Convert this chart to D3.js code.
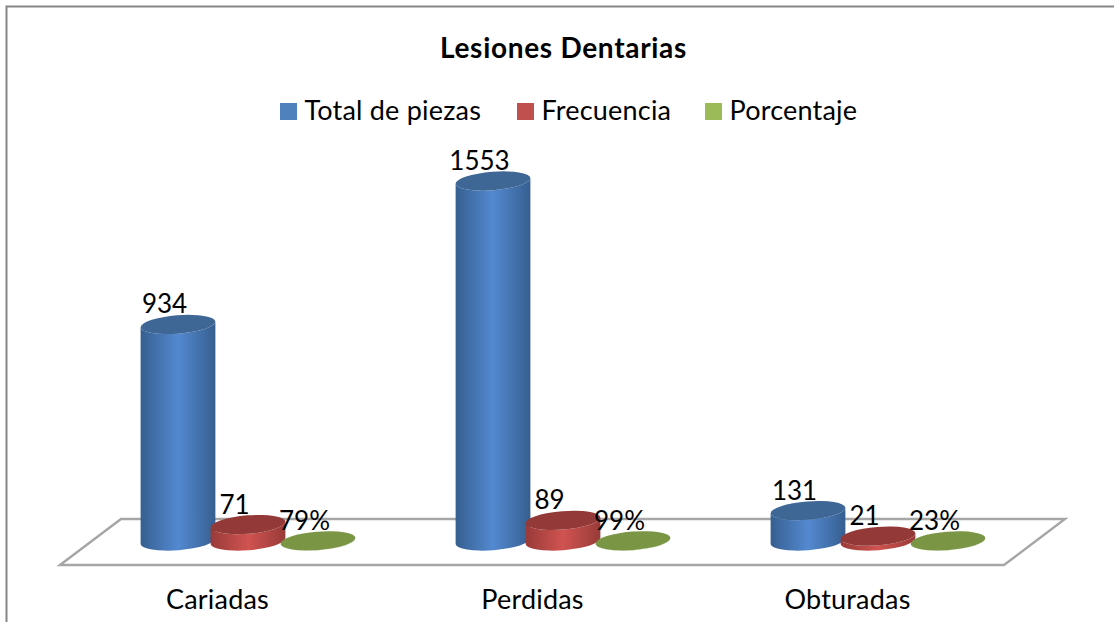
<!DOCTYPE html>
<html>
<head>
<meta charset="utf-8">
<script src="https://cdn.jsdelivr.net/npm/d3@7"></script>
<style>
html,body{margin:0;padding:0;background:#fff;overflow:hidden}
text{font-family:Lato,Carlito,"Open Sans",sans-serif;fill:#000}
</style>
</head>
<body>
<svg id="c" width="1114" height="622"></svg>
<script>
const categories = ["Cariadas", "Perdidas", "Obturadas"];
const seriesNames = ["Total de piezas", "Frecuencia", "Porcentaje"];
const totalPiezas = [934, 1553, 131];
const frecuencia = [71, 89, 21];
const porcentaje = [0.79, 0.99, 0.23];
const title = "Lesiones Dentarias";

const legendColors = ["#4f81bd", "#c0504d", "#9bbb59"];
const shades = [
  {edge:"#365f90", mid:"#5389d0", top:"#3e6796"},
  {edge:"#983b39", mid:"#d05350", top:"#933a38"},
  {edge:"#6a8339", mid:"#7d9947", top:"#7a9645"}
];

const svg = d3.select("#c");
const defs = svg.append("defs");
shades.forEach((s,i)=>{
  const g = defs.append("linearGradient").attr("id","g"+i).attr("x1",0).attr("x2",1).attr("y1",0).attr("y2",0);
  g.append("stop").attr("offset","0%").attr("stop-color",s.edge);
  g.append("stop").attr("offset","50%").attr("stop-color",s.mid);
  g.append("stop").attr("offset","100%").attr("stop-color",s.edge);
});

// frame
svg.append("path").attr("d","M6.5,622V6.5H1114").attr("fill","none").attr("stroke","#868686").attr("stroke-width",2);

// scales
const x = d3.scalePoint().domain(categories).range([248,878]);
const offset = d3.scalePoint().domain(seriesNames).range([-70,70]);
const y = d3.scaleLinear().domain([0,1553]).range([541,181]);

// floor
svg.append("path").attr("d","M60,565L121,519H1065L1004,565Z")
  .attr("fill","#fff").attr("stroke","#a6a6a6").attr("stroke-width",2.4);

const rx = 37.5, ry = 9.2, rot = -4.5;
const dx = rx*Math.cos(rot*Math.PI/180), dy = -rx*Math.sin(rot*Math.PI/180);

function cyl(cx, yt, si){
  const yb = y(0);
  const g = svg.append("g");
  g.append("path").attr("d",
    `M${cx-dx},${yt+dy}L${cx-dx},${yb+dy}A${rx},${ry} ${rot} 0 0 ${cx+dx},${yb-dy}L${cx+dx},${yt-dy}A${rx},${ry} ${rot} 0 1 ${cx-dx},${yt+dy}Z`)
    .attr("fill",`url(#g${si})`);
  g.append("ellipse").attr("cx",cx).attr("cy",yt).attr("rx",rx).attr("ry",ry)
    .attr("transform",`rotate(${rot} ${cx} ${yt})`).attr("fill",shades[si].top);
}

const allSeries = [totalPiezas, frecuencia, porcentaje];
categories.forEach((c,ci)=>{
  seriesNames.forEach((s,si)=>{
    cyl(x(c)+offset(s), y(allSeries[si][ci]), si);
  });
});

// value labels
categories.forEach((c,ci)=>{
  seriesNames.forEach((s,si)=>{
    const v = allSeries[si][ci];
    svg.append("text")
      .attr("x", x(c)+offset(s)-13.5)
      .attr("y", y(v)-11)
      .attr("text-anchor","middle")
      .attr("font-size",26)
      .text(si===2 ? d3.format(".0%")(v) : v);
  });
});

// category labels
categories.forEach(c=>{
  svg.append("text").attr("x",x(c)-30.5).attr("y",609).attr("text-anchor","middle")
    .attr("font-size",27).attr("letter-spacing",0.2).text(c);
});

// title
svg.append("text").attr("x",563.5).attr("y",58).attr("text-anchor","middle")
  .attr("font-size",28).attr("letter-spacing",0.7).attr("font-weight","bold").text(title);

// legend
const legendX = [280,517,705];
seriesNames.forEach((s,i)=>{
  svg.append("rect").attr("x",legendX[i]).attr("y",103).attr("width",17).attr("height",17).attr("fill",legendColors[i]);
  svg.append("text").attr("x",legendX[i]+24.5).attr("y",120).attr("font-size",27).attr("letter-spacing",0.2).text(s);
});
</script>
</body>
</html>
